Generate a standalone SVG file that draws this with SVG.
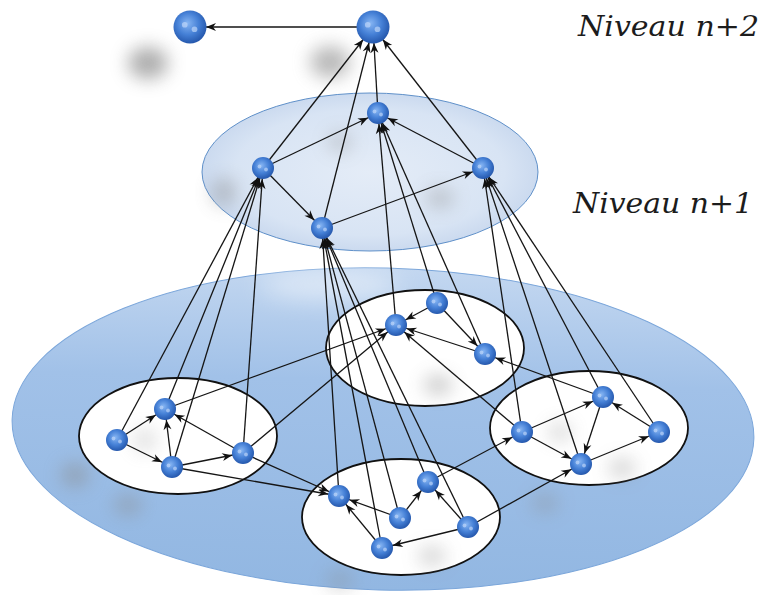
<svg xmlns="http://www.w3.org/2000/svg" xmlns:xlink="http://www.w3.org/1999/xlink" width="766" height="595" viewBox="0 0 766 595">
  <style>
    .e { stroke: #151515; stroke-width: 1.3; fill: none; marker-end: url(#ah); }
    .eb { stroke: #151515; stroke-width: 1.3; fill: none; marker-end: url(#ahBig); }
    .cluster { fill: #ffffff; stroke: #111111; stroke-width: 1.8; }
    .haze { fill: #8a8a8a; filter: url(#soft); }
    .lbl { font-family: "DejaVu Serif", "Liberation Serif", serif; font-style: italic; font-size: 28px; fill: #1c1c1c; }
  </style>
  <defs>
    <radialGradient id="sphere" cx="0.45" cy="0.42" r="0.6" fx="0.42" fy="0.38">
      <stop offset="0" stop-color="#86b5f3"/>
      <stop offset="0.55" stop-color="#4580d6"/>
      <stop offset="1" stop-color="#2355aa"/>
    </radialGradient>
    <linearGradient id="planeN" x1="0" y1="0" x2="0" y2="1">
      <stop offset="0" stop-color="#c3d7f0"/>
      <stop offset="0.35" stop-color="#a1c1e8"/>
      <stop offset="1" stop-color="#92b7e2"/>
    </linearGradient>
    <radialGradient id="planeN1" cx="0.5" cy="0.5" r="0.5">
      <stop offset="0" stop-color="#e4ecf7"/>
      <stop offset="0.8" stop-color="#d8e4f4"/>
      <stop offset="1" stop-color="#cbdaef"/>
    </radialGradient>
    <filter id="soft" x="-1" y="-1" width="3" height="3">
      <feGaussianBlur stdDeviation="9"/>
    </filter>
    <filter id="softW" x="-1" y="-1" width="3" height="3">
      <feGaussianBlur stdDeviation="12"/>
    </filter>
    <marker id="ah" viewBox="0 0 10 8" markerWidth="10" markerHeight="8" refX="21" refY="4" orient="auto" markerUnits="userSpaceOnUse" overflow="visible">
      <path d="M0,0 L10,4 L0,8 L3,4 z" fill="#111111"/>
    </marker>
    <marker id="ahBig" viewBox="0 0 10 8" markerWidth="10" markerHeight="8" refX="26" refY="4" orient="auto" markerUnits="userSpaceOnUse" overflow="visible">
      <path d="M0,0 L10,4 L0,8 L3,4 z" fill="#111111"/>
    </marker>
    <!-- glossy ball, radius 11 -->
    <g id="ball">
      <circle r="11" fill="url(#sphere)"/>
      <circle cx="-3.5" cy="-1.5" r="1.9" fill="#c4dafa" opacity="0.65"/>
      <circle cx="3" cy="1.5" r="1.9" fill="#c4dafa" opacity="0.65"/>
    </g>
  </defs>

  <rect width="766" height="595" fill="#ffffff"/>

  <!-- soft shadows on the white background -->
  <ellipse class="haze" cx="148" cy="63" rx="20" ry="16" opacity="0.7"/>
  <ellipse class="haze" cx="330" cy="62" rx="20" ry="16" opacity="0.6"/>

  <!-- level n plane -->
  <g id="plane-n">
    <ellipse cx="383" cy="429" rx="371" ry="161" fill="url(#planeN)" stroke="#7ba6da" stroke-width="1" transform="rotate(1.5 383 429)"/>
    <ellipse cx="330" cy="285" rx="70" ry="14" fill="#ffffff" opacity="0.5" filter="url(#softW)"/>
    <ellipse class="haze" cx="75" cy="475" rx="14" ry="12" opacity="0.5"/>
    <ellipse class="haze" cx="128" cy="505" rx="14" ry="10" opacity="0.45"/>
    <ellipse class="haze" cx="340" cy="580" rx="14" ry="10" opacity="0.35"/>
    <ellipse class="haze" cx="545" cy="503" rx="14" ry="10" opacity="0.35"/>
  </g>

  <!-- level n+1 plane -->
  <g id="plane-n1">
    <ellipse cx="370" cy="172" rx="168" ry="79" fill="url(#planeN1)" stroke="#5f90c9" stroke-width="1"/>
    <ellipse class="haze" cx="224" cy="192" rx="12" ry="14" opacity="0.45"/>
    <ellipse class="haze" cx="340" cy="142" rx="12" ry="10" opacity="0.35"/>
    <ellipse class="haze" cx="440" cy="198" rx="14" ry="10" opacity="0.4"/>
  </g>

  <!-- level n clusters -->
  <g id="cluster-top">
    <ellipse class="cluster" cx="425" cy="348" rx="99" ry="58"/>
    <ellipse class="haze" cx="438" cy="385" rx="14" ry="10" opacity="0.45"/>
  </g>
  <g id="cluster-left">
    <ellipse class="cluster" cx="178" cy="436" rx="99" ry="58"/>
    <ellipse class="haze" cx="145" cy="440" rx="12" ry="12" opacity="0.25"/>
  </g>
  <g id="cluster-right">
    <ellipse class="cluster" cx="589" cy="428" rx="99" ry="57"/>
    <ellipse class="haze" cx="560" cy="432" rx="12" ry="10" opacity="0.3"/>
    <ellipse class="haze" cx="622" cy="468" rx="14" ry="10" opacity="0.35"/>
  </g>
  <g id="cluster-bottom">
    <ellipse class="cluster" cx="401" cy="517" rx="99" ry="58"/>
    <ellipse class="haze" cx="432" cy="556" rx="14" ry="10" opacity="0.35"/>
  </g>

  <!-- connectors -->
  <g id="connectors">
    <!-- level n+2 -->
    <line class="eb" x1="373" y1="27" x2="190" y2="27"/>
    <!-- level n+1 to n+2 -->
    <line class="eb" x1="263" y1="168" x2="373" y2="27"/>
    <line class="eb" x1="322" y1="228" x2="373" y2="27"/>
    <line class="eb" x1="378" y1="113" x2="373" y2="27"/>
    <line class="eb" x1="483" y1="168" x2="373" y2="27"/>
    <!-- inside level n+1 -->
    <line class="e" x1="263" y1="168" x2="378" y2="113"/>
    <line class="e" x1="263" y1="168" x2="322" y2="228"/>
    <line class="e" x1="483" y1="168" x2="378" y2="113"/>
    <line class="e" x1="322" y1="228" x2="483" y2="168"/>
    <!-- level n to n+1 -->
    <line class="e" x1="117" y1="440" x2="263" y2="168"/>
    <line class="e" x1="165" y1="409" x2="263" y2="168"/>
    <line class="e" x1="172" y1="467" x2="263" y2="168"/>
    <line class="e" x1="243" y1="453" x2="263" y2="168"/>
    <line class="e" x1="396" y1="325" x2="378" y2="113"/>
    <line class="e" x1="437" y1="303" x2="378" y2="113"/>
    <line class="e" x1="485" y1="354" x2="378" y2="113"/>
    <line class="e" x1="522" y1="432" x2="483" y2="168"/>
    <line class="e" x1="603" y1="397" x2="483" y2="168"/>
    <line class="e" x1="581" y1="464" x2="483" y2="168"/>
    <line class="e" x1="659" y1="432" x2="483" y2="168"/>
    <line class="e" x1="339" y1="496" x2="322" y2="228"/>
    <line class="e" x1="400" y1="518" x2="322" y2="228"/>
    <line class="e" x1="428" y1="482" x2="322" y2="228"/>
    <line class="e" x1="468" y1="527" x2="322" y2="228"/>
    <line class="e" x1="382" y1="548" x2="322" y2="228"/>
    <!-- inside top cluster -->
    <line class="e" x1="437" y1="303" x2="396" y2="325"/>
    <line class="e" x1="437" y1="303" x2="485" y2="354"/>
    <line class="e" x1="485" y1="354" x2="396" y2="325"/>
    <!-- inside left cluster -->
    <line class="e" x1="117" y1="440" x2="165" y2="409"/>
    <line class="e" x1="117" y1="440" x2="172" y2="467"/>
    <line class="e" x1="172" y1="467" x2="165" y2="409"/>
    <line class="e" x1="172" y1="467" x2="243" y2="453"/>
    <line class="e" x1="243" y1="453" x2="165" y2="409"/>
    <!-- inside right cluster -->
    <line class="e" x1="522" y1="432" x2="603" y2="397"/>
    <line class="e" x1="522" y1="432" x2="581" y2="464"/>
    <line class="e" x1="603" y1="397" x2="581" y2="464"/>
    <line class="e" x1="581" y1="464" x2="659" y2="432"/>
    <line class="e" x1="659" y1="432" x2="603" y2="397"/>
    <!-- inside bottom cluster -->
    <line class="e" x1="400" y1="518" x2="339" y2="496"/>
    <line class="e" x1="400" y1="518" x2="428" y2="482"/>
    <line class="e" x1="382" y1="548" x2="339" y2="496"/>
    <line class="e" x1="468" y1="527" x2="428" y2="482"/>
    <line class="e" x1="468" y1="527" x2="382" y2="548"/>
    <!-- between clusters -->
    <line class="e" x1="165" y1="409" x2="396" y2="325"/>
    <line class="e" x1="243" y1="453" x2="396" y2="325"/>
    <line class="e" x1="522" y1="432" x2="396" y2="325"/>
    <line class="e" x1="603" y1="397" x2="485" y2="354"/>
    <line class="e" x1="172" y1="467" x2="339" y2="496"/>
    <line class="e" x1="243" y1="453" x2="339" y2="496"/>
    <line class="e" x1="428" y1="482" x2="522" y2="432"/>
    <line class="e" x1="468" y1="527" x2="581" y2="464"/>
  </g>

  <!-- level n+2 nodes -->
  <g id="node-a"><use xlink:href="#ball" href="#ball" transform="translate(190 27) scale(1.5)"/></g>
  <g id="node-b"><use xlink:href="#ball" href="#ball" transform="translate(373 27) scale(1.5)"/></g>
  <!-- level n+1 nodes -->
  <g id="node-c"><use xlink:href="#ball" href="#ball" x="378" y="113"/></g>
  <g id="node-d"><use xlink:href="#ball" href="#ball" x="263" y="168"/></g>
  <g id="node-e"><use xlink:href="#ball" href="#ball" x="322" y="228"/></g>
  <g id="node-f"><use xlink:href="#ball" href="#ball" x="483" y="168"/></g>
  <!-- top cluster nodes -->
  <g id="node-g"><use xlink:href="#ball" href="#ball" x="396" y="325"/></g>
  <g id="node-h"><use xlink:href="#ball" href="#ball" x="437" y="303"/></g>
  <g id="node-i"><use xlink:href="#ball" href="#ball" x="485" y="354"/></g>
  <!-- left cluster nodes -->
  <g id="node-l1"><use xlink:href="#ball" href="#ball" x="117" y="440"/></g>
  <g id="node-l2"><use xlink:href="#ball" href="#ball" x="165" y="409"/></g>
  <g id="node-l3"><use xlink:href="#ball" href="#ball" x="172" y="467"/></g>
  <g id="node-l4"><use xlink:href="#ball" href="#ball" x="243" y="453"/></g>
  <!-- right cluster nodes -->
  <g id="node-r1"><use xlink:href="#ball" href="#ball" x="522" y="432"/></g>
  <g id="node-r2"><use xlink:href="#ball" href="#ball" x="603" y="397"/></g>
  <g id="node-r3"><use xlink:href="#ball" href="#ball" x="581" y="464"/></g>
  <g id="node-r4"><use xlink:href="#ball" href="#ball" x="659" y="432"/></g>
  <!-- bottom cluster nodes -->
  <g id="node-m1"><use xlink:href="#ball" href="#ball" x="339" y="496"/></g>
  <g id="node-m2"><use xlink:href="#ball" href="#ball" x="400" y="518"/></g>
  <g id="node-m3"><use xlink:href="#ball" href="#ball" x="428" y="482"/></g>
  <g id="node-m4"><use xlink:href="#ball" href="#ball" x="468" y="527"/></g>
  <g id="node-m5"><use xlink:href="#ball" href="#ball" x="382" y="548"/></g>

  <!-- level labels -->
  <g id="labels">
    <text class="lbl" x="578" y="36" textLength="181" lengthAdjust="spacingAndGlyphs">Niveau n+2</text>
    <text class="lbl" x="573" y="213" textLength="180" lengthAdjust="spacingAndGlyphs">Niveau n+1</text>
  </g>
</svg>
